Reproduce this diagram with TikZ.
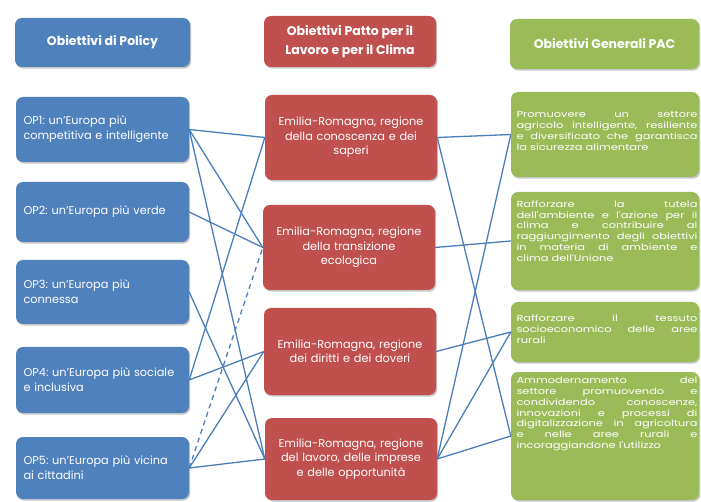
\documentclass[tikz,border=0pt]{standalone}
\usepackage{fontspec}
\setmainfont{Poppins}
\newfontfamily\pacfont[FakeStretch=1.3]{Poppins}
\usetikzlibrary{shadows}
\definecolor{opblue}{HTML}{4F81BD}
\definecolor{erred}{HTML}{C0504D}
\definecolor{pacgreen}{HTML}{9BBB59}
\definecolor{linkblue}{HTML}{4A7EBB}
\frenchspacing

\begin{document}
\begin{tikzpicture}[x=1pt,y=-1pt,
    box/.style={rounded corners=7pt, inner sep=0pt, text=white,
      drop shadow={shadow xshift=1.2pt, shadow yshift=-1.6pt, opacity=0.3, fill=black!70}},
    hdr/.style={box, align=center, font=\bfseries\fontsize{12.5}{18.5}\selectfont},
    opbox/.style={box, fill=opblue, minimum width=173pt, text width=158pt, align=left,
      font=\fontsize{11.3}{15}\selectfont},
    erbox/.style={box, fill=erred, minimum width=172pt, text width=160pt, align=center,
      font=\fontsize{11.3}{14.5}\selectfont},
    pacbox/.style={box, fill=pacgreen, minimum width=188pt},
    pactext/.style={text=white, text width=181pt, align=justify, inner sep=0pt,
      font=\pacfont\fontsize{8.8}{10.8}\selectfont},
    link/.style={draw=linkblue, line width=1.3pt},
    dlink/.style={link, dash pattern=on 5pt off 4pt}
  ]
  \fill[white] (0,0) rectangle (701,502);
  \useasboundingbox (0,0) rectangle (701,502);

  % headers
  \node[hdr, fill=opblue, minimum width=175pt, minimum height=49pt] (hpol) at (102.5,42.5) {Obiettivi di Policy};
  \node[hdr, fill=erred, minimum width=172pt, minimum height=51pt] (hpat) at (350,41.5) {Obiettivi Patto per il\\Lavoro e per il Clima};
  \node[hdr, fill=pacgreen, minimum width=189pt, minimum height=50pt] (hpac) at (604.5,44) {Obiettivi Generali PAC};

  % obiettivi di policy
  \node[opbox, minimum height=65pt] (op1) at (102.5,129.5) {OP1: un'Europa più\\competitiva e intelligente};
  \node[opbox, minimum height=60pt] (op2) at (102.5,212) {OP2: un'Europa più verde};
  \node[opbox, minimum height=64pt] (op3) at (102.5,292) {OP3: un'Europa più\\connessa};
  \node[opbox, minimum height=66pt] (op4) at (102.5,380) {OP4: un'Europa più sociale\\e inclusiva};
  \node[opbox, minimum height=62pt] (op5) at (102.5,468) {OP5: un'Europa più vicina\\ai cittadini};

  % patto per il lavoro e per il clima
  \node[erbox, minimum height=85pt] (er1) at (351,137.5) {Emilia-Romagna, regione\\della conoscenza e dei\\saperi};
  \node[erbox, minimum height=85pt] (er2) at (349,247.5) {Emilia-Romagna, regione\\della transizione\\ecologica};
  \node[erbox, minimum height=87pt] (er3) at (350,351.5) {Emilia-Romagna, regione\\dei diritti e dei doveri};
  \node[erbox, minimum height=82pt] (er4) at (351,459) {Emilia-Romagna, regione\\del lavoro, delle imprese\\e delle opportunità};

  % obiettivi generali PAC
  \node[pacbox, minimum height=85pt] (pac1) at (605,134.5) {};
  \node[pacbox, minimum height=98pt] (pac2) at (605,241) {};
  \node[pacbox, minimum height=60pt] (pac3) at (605,332) {};
  \node[pacbox, minimum height=128pt] (pac4) at (605,436) {};
  \node[pactext] (pac1t) at (607,131) {Promuovere un settore\linebreak agricolo intelligente, resiliente\linebreak e diversificato che garantisca\linebreak la sicurezza alimentare};
  \node[pactext] (pac2t) at (607,231) {Rafforzare la tutela\linebreak dell'ambiente e l'azione per il\linebreak clima e contribuire al\linebreak raggiungimento degli obiettivi\linebreak in materia di ambiente e\linebreak clima dell'Unione};
  \node[pactext] (pac3t) at (607,329) {Rafforzare il tessuto\linebreak socioeconomico delle aree\linebreak rurali};
  \node[pactext] (pac4t) at (607,414) {Ammodernamento del\linebreak settore promuovendo e\linebreak condividendo conoscenze,\linebreak innovazioni e processi di\linebreak digitalizzazione in agricoltura\linebreak e nelle aree rurali e\linebreak incoraggiandone l'utilizzo};

  % collegamenti
  \draw[link] (op1.east) -- (er1.west);
  \draw[link] (op1.east) -- (er2.west);
  \draw[link] (op1.east) -- (er4.west);
  \draw[link] (op2.east) -- (er2.west);
  \draw[link] (op3.east) -- (er4.west);
  \draw[link] (op4.east) -- (er1.west);
  \draw[link] (op4.east) -- (er3.west);
  \draw[dlink] (op5.east) -- (er2.west);
  \draw[link] (op5.east) -- (er3.west);
  \draw[link] (op5.east) -- (er4.west);

  \draw[link] (er1.east) -- (pac1.west);
  \draw[link] (er1.east) -- (pac4.west);
  \draw[link] (er2.east) -- (pac2.west);
  \draw[link] (er3.east) -- (pac3.west);
  \draw[link] (er4.east) -- (pac1.west);
  \draw[link] (er4.east) -- (pac3.west);
  \draw[link] (er4.east) -- (pac4.west);
\end{tikzpicture}
\end{document}
